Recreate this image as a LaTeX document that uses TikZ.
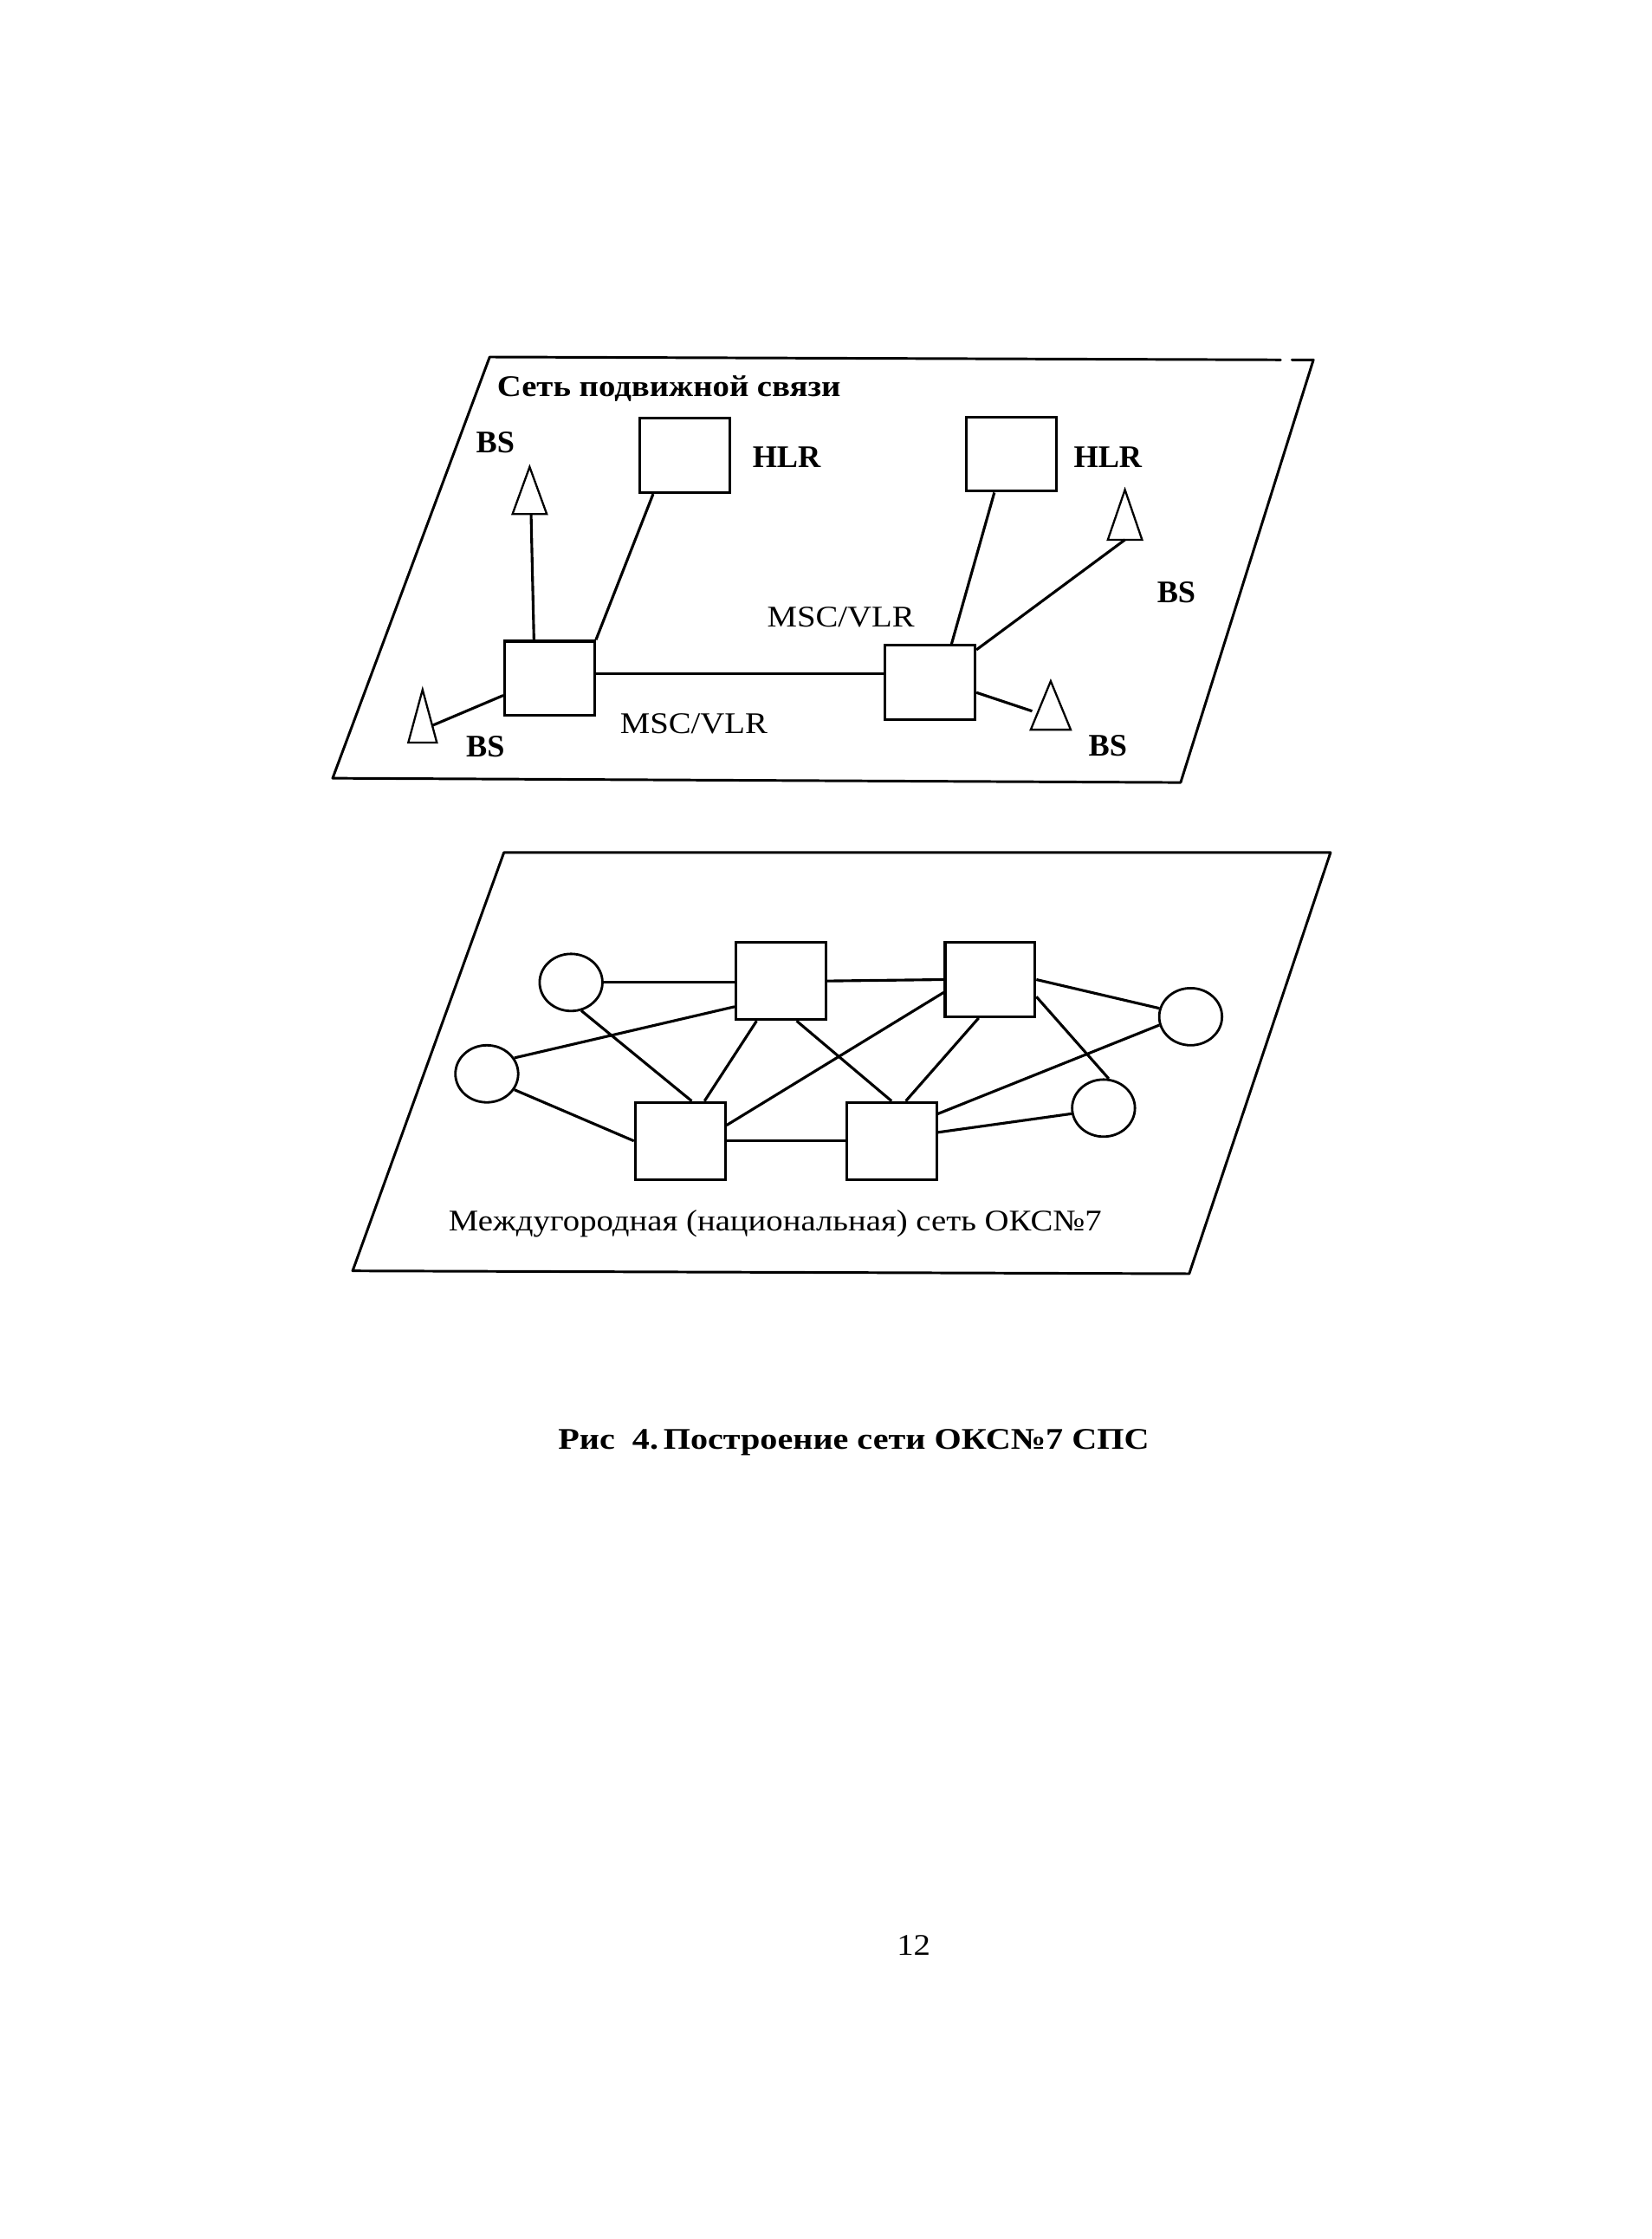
\documentclass[tikz,border=0pt]{standalone}
\usepackage{fontspec}
\setmainfont{Liberation Serif}
\newfontfamily\widefont[FakeStretch=1.12]{Liberation Serif}
\newfontfamily\capfont[FakeStretch=1.16]{Liberation Serif}
\usetikzlibrary{shapes.geometric,calc}
\tikzset{
  plane/.style={line width=1.8pt, line cap=round, line join=round},
  box/.style={draw, line width=1.9pt, minimum width=63pt, minimum height=52pt, inner sep=0pt},
  oval/.style={draw, ellipse, line width=1.7pt, minimum width=44pt, minimum height=40pt, inner sep=0pt},
  link/.style={line width=1.9pt},
  tri/.style={line width=1.4pt, line join=miter},
  lbl/.style={font=\fontsize{22}{24}\selectfont\bfseries, inner sep=0pt},
  txt/.style={font=\widefont\fontsize{21}{24}\selectfont, inner sep=0pt},
  captxt/.style={font=\capfont\fontsize{21}{24}\selectfont\bfseries, inner sep=0pt},
}
\begin{document}
\begin{tikzpicture}[x=1pt,y=-1pt]
\useasboundingbox (0,0) rectangle (1157,1568);
\fill[white] (0,0) rectangle (1157,1568);
% ---------- top plane ----------
\draw[plane] (897,252) -- (343,250) -- (233,545) -- (827,548) -- (920,252) -- (905,252);
\node[lbl, font=\widefont\fontsize{21}{24}\selectfont\bfseries, anchor=west] (title1) at (348,272) {Сеть подвижной связи};
\node[box] (hlr1) at (479.5,319) {};
\node[box] (hlr2) at (708.5,318) {};
\node[box] (msc1) at (385,475) {};
\node[box] (msc2) at (651.5,478) {};
% triangles (BS)
\draw[tri] (371,327) -- (383,360) -- (359,360) -- cycle;
\draw[tri] (788,343) -- (800,378) -- (776,378) -- cycle;
\draw[tri] (296,483) -- (306,520) -- (286,520) -- cycle;
\draw[tri] (736,477) -- (750,511) -- (722,511) -- cycle;
\coordinate (bs1) at (372,360);
\coordinate (bs2) at (788,378);
\coordinate (bs3) at (303,508);
\coordinate (bs4) at (723,498);
% connectors
\draw[link] (bs1) -- ([xshift=-11pt]msc1.north);
\draw[link] ([xshift=-22pt]hlr1.south) -- (msc1.north east);
\draw[link] ([yshift=3pt]msc1.east) -- ([yshift=3pt]msc1.east -| msc2.west);
\draw[link] ([xshift=-12pt]hlr2.south) -- ([xshift=15pt]msc2.north);
\draw[link] ([yshift=-4pt]msc2.north east) -- (bs2);
\draw[link] ([yshift=-12pt]msc1.west) -- (bs3);
\draw[link] ([yshift=-7pt]msc2.east) -- (bs4);
% labels
\node[lbl] (l1) at (347,310) {BS};
\node[lbl] (l2) at (551,320) {HLR};
\node[lbl] (l3) at (776,320) {HLR};
\node[txt] (l4) at (589,432) {MSC/VLR};
\node[lbl] (l5) at (824,415) {BS};
\node[txt] (l6) at (486,507) {MSC/VLR};
\node[lbl] (l7) at (340,523) {BS};
\node[lbl] (l8) at (776,522) {BS};
% ---------- bottom plane ----------
\draw[plane] (353,597) -- (932,597) -- (833,892) -- (247,890) -- cycle;
\node[oval] (c1) at (400,688) {};
\node[oval] (c2) at (341,752) {};
\node[oval] (c3) at (834,712) {};
\node[oval] (c4) at (773,776) {};
\node[box, minimum height=54pt] (b1) at (547,687) {};
\node[box] (b2) at (693.5,686) {};
\node[box, minimum height=54pt] (b3) at (476.5,799) {};
\node[box, minimum height=54pt] (b4) at (624.5,799) {};
\draw[link] (c1.east) -- (c1.east -| b1.west);
\draw[link] (b1.east) -- (b2.west);
\draw[link] (b2.east) -- (c3.165);
\draw[link] (c2.30) -- ([yshift=-18pt]b1.west);
\draw[link] (c1.-70) -- ([xshift=8pt]b3.north);
\draw[link] (c2.-30) -- (b3.west);
\draw[link] ([xshift=-17pt]b1.south) -- ([xshift=17pt]b3.north);
\draw[link] ([xshift=11pt]b1.south) -- (b4.north);
\draw[link] ([yshift=-9pt]b2.west) -- ([yshift=11pt]b3.east);
\draw[link] ([xshift=-8pt]b2.south) -- ([xshift=10pt]b4.north);
\draw[link] ([yshift=-12pt]b2.east) -- (c4.80);
\draw[link] (c3.195) -- ([yshift=19pt]b4.east);
\draw[link] (b3.east) -- (b4.west);
\draw[link] ([yshift=6pt]b4.east) -- (c4.190);
\node[txt] (title2) at (543,857) {Междугородная (национальная) сеть ОКС№7};
% ---------- caption ----------
\node[captxt] (cap) at (598,1010) {Рис\ \ 4.\,Построение сети ОКС№7 СПС};
\node[txt] (page) at (640,1362) {12};
\end{tikzpicture}
\end{document}
